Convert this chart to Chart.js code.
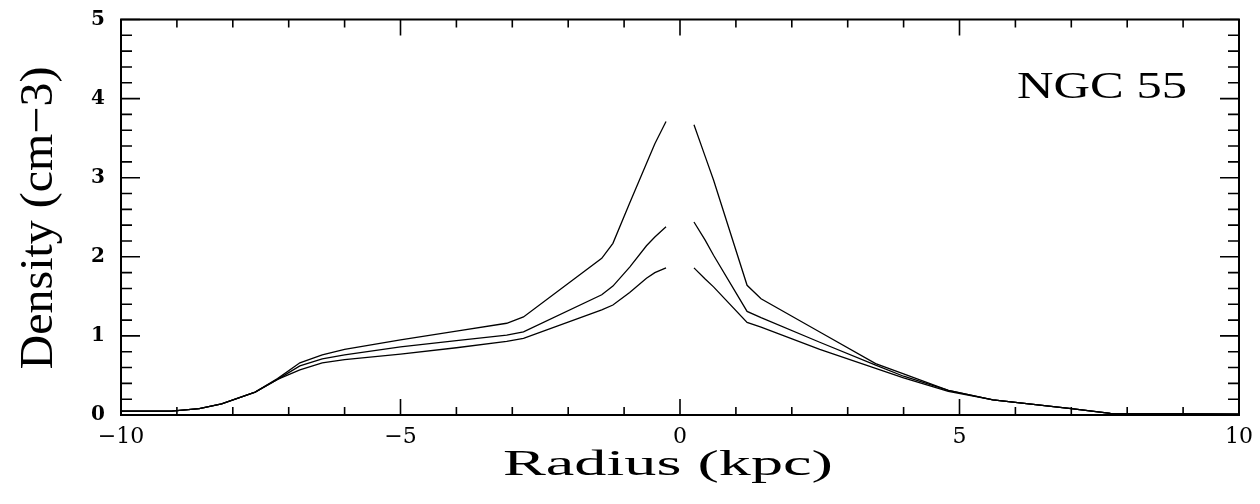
<!DOCTYPE html>
<html>
<head>
<meta charset="utf-8">
<script src="https://cdn.jsdelivr.net/npm/chart.js@4.4.1/dist/chart.umd.min.js"></script>
<style>
  html, body { margin: 0; padding: 0; background: #fff; }
  canvas { display: block; }
</style>
</head>
<body>
<canvas id="densityChart" width="1260" height="504"></canvas>
<script>
// radius (kpc) on each side of the nucleus
const leftRadius = [-10, -9.1, -8.6, -8.2, -7.6, -7.2, -6.8, -6.4, -6.0, -5.0, -4.0, -3.1, -2.8, -1.4, -1.2, -0.9, -0.6, -0.45, -0.25];
const rightRadius = [0.25, 0.45, 0.6, 1.2, 1.45, 2.5, 3.5, 4.0, 4.8, 5.6, 7.0, 7.7, 10];

// density (cm-3), three profiles
const leftUpper = [0.05, 0.05, 0.08, 0.14, 0.29, 0.46, 0.66, 0.76, 0.83, 0.95, 1.06, 1.16, 1.24, 1.98, 2.17, 2.68, 3.18, 3.43, 3.71];
const leftMiddle = [0.05, 0.05, 0.08, 0.14, 0.29, 0.45, 0.62, 0.71, 0.76, 0.86, 0.94, 1.01, 1.05, 1.52, 1.63, 1.87, 2.14, 2.25, 2.38];
const leftLower = [0.05, 0.05, 0.08, 0.14, 0.29, 0.45, 0.57, 0.66, 0.70, 0.77, 0.85, 0.93, 0.97, 1.33, 1.39, 1.55, 1.73, 1.80, 1.86];
const rightUpper = [3.67, 3.27, 2.97, 1.64, 1.47, 1.05, 0.65, 0.52, 0.31, 0.19, 0.08, 0.02, 0.01];
const rightMiddle = [2.44, 2.21, 2.02, 1.31, 1.23, 0.92, 0.63, 0.49, 0.31, 0.19, 0.08, 0.02, 0.01];
const rightLower = [1.86, 1.72, 1.62, 1.17, 1.11, 0.83, 0.59, 0.47, 0.30, 0.19, 0.08, 0.02, 0.01];

const xTickValues = [-10, -5, 0, 5, 10];
const yTickValues = [0, 1, 2, 3, 4, 5];

const xTitle = "Radius (kpc)";
const yTitle = "Density (cm\u22123)";
const galaxyName = "NGC 55";

const tickFont = "'DejaVu Serif', serif";
const titleFont = "'Liberation Serif', 'DejaVu Serif', serif";

function toPoints(xs, ys) {
  return xs.map((x, i) => ({ x: x, y: ys[i] }));
}

function profile(xs, ys) {
  return {
    data: toPoints(xs, ys),
    borderColor: "#000",
    borderWidth: 1.3,
    pointRadius: 0,
    tension: 0,
    fill: false,
  };
}

// draws text stretched to a given length and cap height (the source image is widened)
function drawFitted(ctx, text, cx, baseY, size, length, capHeight, vertical) {
  ctx.save();
  ctx.font = size + "px " + titleFont;
  const w = ctx.measureText(text).width;
  const sx = length / w;
  const sy = capHeight / (0.66 * size);
  ctx.translate(cx, baseY);
  if (vertical) ctx.rotate(-Math.PI / 2);
  ctx.scale(sx, sy);
  ctx.fillStyle = "#000";
  ctx.textAlign = "center";
  ctx.textBaseline = "alphabetic";
  ctx.fillText(text, 0, 0);
  ctx.restore();
}

const framePlugin = {
  id: "frame",
  afterDraw(chart) {
    const ctx = chart.ctx;
    const a = chart.chartArea;
    const xs = chart.scales.x;
    const ys = chart.scales.y;

    ctx.save();
    ctx.strokeStyle = "#000";
    ctx.lineWidth = 2;
    ctx.strokeRect(a.left, a.top, a.right - a.left, a.bottom - a.top);

    // inward ticks
    ctx.lineWidth = 1.6;
    ctx.beginPath();
    for (let v = -10; v <= 10; v++) {
      const px = xs.getPixelForValue(v);
      const len = v % 5 === 0 ? 16 : 8;
      ctx.moveTo(px, a.bottom);
      ctx.lineTo(px, a.bottom - len);
      ctx.moveTo(px, a.top);
      ctx.lineTo(px, a.top + len);
    }
    for (let k = 0; k <= 25; k++) {
      const py = ys.getPixelForValue(k / 5);
      const len = k % 5 === 0 ? 19 : 11;
      ctx.moveTo(a.left, py);
      ctx.lineTo(a.left + len, py);
      ctx.moveTo(a.right, py);
      ctx.lineTo(a.right - len, py);
    }
    ctx.stroke();
    ctx.restore();

    drawFitted(ctx, xTitle, 668, 475, 34, 330, 23, false);
    drawFitted(ctx, yTitle, 52, 218, 44, 303, 31, true);
    drawFitted(ctx, galaxyName, 1102, 98, 38, 170, 25, false);
  },
};

new Chart(document.getElementById("densityChart"), {
  type: "line",
  data: {
    datasets: [
      profile(leftRadius, leftUpper),
      profile(leftRadius, leftMiddle),
      profile(leftRadius, leftLower),
      profile(rightRadius, rightUpper),
      profile(rightRadius, rightMiddle),
      profile(rightRadius, rightLower),
    ],
  },
  options: {
    responsive: false,
    animation: false,
    devicePixelRatio: 1,
    layout: { padding: { left: 0, top: 19.5, right: 21, bottom: 0 } },
    plugins: {
      legend: { display: false },
      tooltip: { enabled: false },
    },
    scales: {
      x: {
        type: "linear",
        min: -10,
        max: 10,
        afterFit(scale) {
          scale.height = 89;
          scale.paddingLeft = 0;
          scale.paddingRight = 0;
        },
        afterBuildTicks(scale) { scale.ticks = xTickValues.map(v => ({ value: v })); },
        grid: { display: false, drawTicks: false },
        border: { display: false },
        ticks: {
          maxRotation: 0,
          padding: 9,
          color: "#000",
          font: { family: tickFont, size: 22 },
          callback: v => (v < 0 ? "\u2212" + Math.abs(v) : String(v)),
        },
      },
      y: {
        type: "linear",
        min: 0,
        max: 5,
        afterFit(scale) {
          scale.width = 121;
          scale.paddingTop = 0;
          scale.paddingBottom = 0;
        },
        afterBuildTicks(scale) { scale.ticks = yTickValues.map(v => ({ value: v })); },
        grid: { display: false, drawTicks: false },
        border: { display: false },
        ticks: {
          padding: 16,
          color: "#000",
          font: { family: tickFont, size: 20, weight: "bold" },
        },
      },
    },
  },
  plugins: [framePlugin],
});
</script>
</body>
</html>
